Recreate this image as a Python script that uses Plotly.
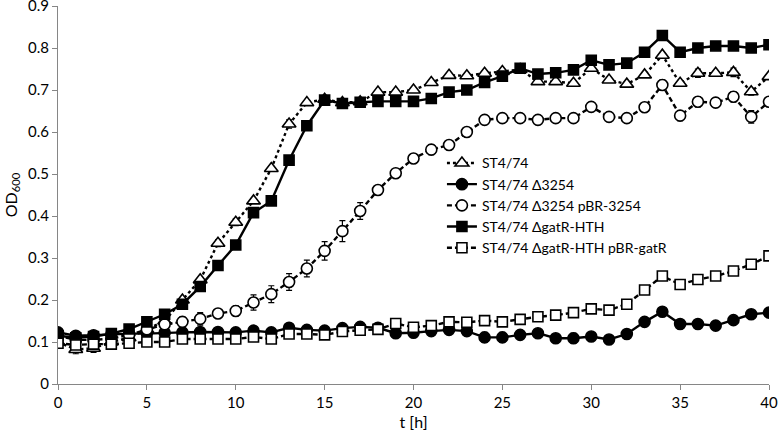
import plotly.graph_objects as go

t = list(range(0, 41))

names = ["ST4/74", "ST4/74 Δ3254", "ST4/74 Δ3254 pBR-3254",
         "ST4/74 ΔgatR-HTH", "ST4/74 ΔgatR-HTH pBR-gatR"]

wt = [0.10, 0.082, 0.085, 0.10, 0.11, 0.13, 0.15, 0.20, 0.248, 0.335, 0.385, 0.436, 0.513, 0.619,
      0.67, 0.678, 0.67, 0.672, 0.695, 0.695, 0.70, 0.718, 0.735, 0.734, 0.74, 0.744, 0.749, 0.72,
      0.72, 0.716, 0.752, 0.724, 0.714, 0.736, 0.783, 0.716, 0.74, 0.74, 0.742, 0.696, 0.732]
wt_err = [0.01, 0.01, 0.01, 0.005, 0.005, 0.005, 0.005, 0.005, 0.005, 0.008, 0.008, 0.005, 0.005,
          0.01, 0.005, 0.005, 0.005, 0.005, 0.005, 0.005, 0.005, 0.005, 0.005, 0.005, 0.005, 0.005,
          0.005, 0.005, 0.005, 0.005, 0.005, 0.005, 0.005, 0.005, 0.005, 0.005, 0.01, 0.005, 0.01,
          0.008, 0.005]

d3254 = [0.123, 0.115, 0.116, 0.118, 0.12, 0.12, 0.122, 0.123, 0.124, 0.124, 0.123, 0.127, 0.123,
         0.134, 0.129, 0.127, 0.133, 0.136, 0.134, 0.121, 0.122, 0.126, 0.129, 0.126, 0.111, 0.111,
         0.117, 0.121, 0.109, 0.109, 0.113, 0.106, 0.119, 0.148, 0.172, 0.143, 0.143, 0.139, 0.152,
         0.166, 0.17]
d3254_err = [0.005, 0.005, 0.005, 0.005, 0.005, 0.005, 0.005, 0.005, 0.005, 0.005, 0.005, 0.005,
             0.005, 0.005, 0.005, 0.005, 0.005, 0.005, 0.005, 0.005, 0.005, 0.005, 0.005, 0.005,
             0.012, 0.012, 0.008, 0.005, 0.005, 0.012, 0.005, 0.005, 0.005, 0.005, 0.005, 0.005,
             0.005, 0.008, 0.005, 0.005, 0.01]

d3254_c = [0.115, 0.105, 0.105, 0.108, 0.117, 0.13, 0.142, 0.148, 0.155, 0.168, 0.174, 0.194, 0.214,
           0.243, 0.275, 0.317, 0.364, 0.412, 0.462, 0.502, 0.537, 0.558, 0.569, 0.60, 0.629, 0.633,
           0.633, 0.629, 0.633, 0.633, 0.66, 0.636, 0.633, 0.659, 0.712, 0.639, 0.672, 0.67, 0.684,
           0.636, 0.672]
d3254_c_err = [0.005, 0.005, 0.005, 0.005, 0.005, 0.008, 0.01, 0.012, 0.015, 0.01, 0.012, 0.018, 0.02,
               0.02, 0.02, 0.022, 0.025, 0.02, 0.01, 0.008, 0.01, 0.012, 0.008, 0.008, 0.005, 0.005,
               0.005, 0.005, 0.005, 0.005, 0.005, 0.005, 0.005, 0.005, 0.012, 0.012, 0.012, 0.01,
               0.012, 0.015, 0.01]

dgat = [0.115, 0.11, 0.113, 0.12, 0.131, 0.148, 0.166, 0.19, 0.232, 0.282, 0.331, 0.408, 0.436, 0.533,
        0.615, 0.676, 0.668, 0.671, 0.673, 0.673, 0.673, 0.68, 0.695, 0.70, 0.718, 0.733, 0.752, 0.738,
        0.741, 0.748, 0.771, 0.76, 0.764, 0.79, 0.83, 0.79, 0.80, 0.805, 0.805, 0.80, 0.808]
dgat_err = [0.005] * 41

dgat_c = [0.097, 0.093, 0.095, 0.095, 0.097, 0.10, 0.10, 0.107, 0.107, 0.107, 0.107, 0.112, 0.107,
          0.119, 0.119, 0.117, 0.125, 0.128, 0.13, 0.144, 0.135, 0.139, 0.148, 0.147, 0.151, 0.148,
          0.154, 0.16, 0.164, 0.17, 0.179, 0.176, 0.19, 0.224, 0.257, 0.237, 0.249, 0.257, 0.269,
          0.285, 0.305]
dgat_c_err = [0.004] * 41

x_ticks = [0, 5, 10, 15, 20, 25, 30, 35, 40]
y_ticks = [0, 0.1, 0.2, 0.3, 0.4, 0.5, 0.6, 0.7, 0.8, 0.9]
y_labels = ["0", "0.1", "0.2", "0.3", "0.4", "0.5", "0.6", "0.7", "0.8", "0.9"]

series = [wt, d3254, d3254_c, dgat, dgat_c]
errors = [wt_err, d3254_err, d3254_c_err, dgat_err, dgat_c_err]
symbols = ["triangle-up", "circle", "circle", "square", "square"]
fills = ["white", "black", "white", "black", "white"]
dashes = ["dot", "solid", "5px,3px", "solid", "5px,3px"]
sizes = [12, 11, 11, 10, 10]

fig = go.Figure()
for name, y, e, sym, fc, dash, sz in zip(names, series, errors, symbols, fills, dashes, sizes):
    fig.add_trace(go.Scatter(
        x=t, y=y, name=name, mode="lines+markers",
        line=dict(color="black", width=2.4, dash=dash),
        marker=dict(symbol=sym, size=sz, color=fc, line=dict(color="black", width=1.6)),
        error_y=dict(type="data", array=e, visible=True, color="black", thickness=1.2, width=3),
    ))

font = "Lato, Carlito, 'Liberation Sans', sans-serif"
fig.update_layout(
    width=778, height=442,
    margin=dict(l=58, r=9, t=6, b=58),
    paper_bgcolor="white", plot_bgcolor="white",
    font=dict(family=font, size=15, color="black"),
    showlegend=True,
    legend=dict(x=0.54, y=0.626, xanchor="left", yanchor="top",
                bgcolor="rgba(0,0,0,0)", font=dict(size=14, color="black"),
                tracegroupgap=0, itemwidth=30),
    xaxis=dict(range=[0, 40], tickvals=x_ticks,
               showline=True, linecolor="#868686", linewidth=1, ticks="outside",
               tickcolor="#868686", ticklen=5, showgrid=False, zeroline=False,
               automargin=False, ticklabeloverflow="allow",
               title=dict(text="t [h]", font=dict(size=16), standoff=6),
               tickfont=dict(size=15)),
    yaxis=dict(range=[0, 0.9001], tickvals=y_ticks, ticktext=y_labels,
               showline=True, linecolor="#868686", linewidth=1, ticks="outside",
               tickcolor="#868686", ticklen=5, showgrid=False, zeroline=False,
               automargin=False, ticklabeloverflow="allow",
               title=dict(text="OD<sub>600</sub>", font=dict(size=16), standoff=6),
               tickfont=dict(size=15)),
)

fig.write_html("out.html", config={"displayModeBar": False},
               post_script="document.body.style.margin='0';document.body.style.padding='0';")
